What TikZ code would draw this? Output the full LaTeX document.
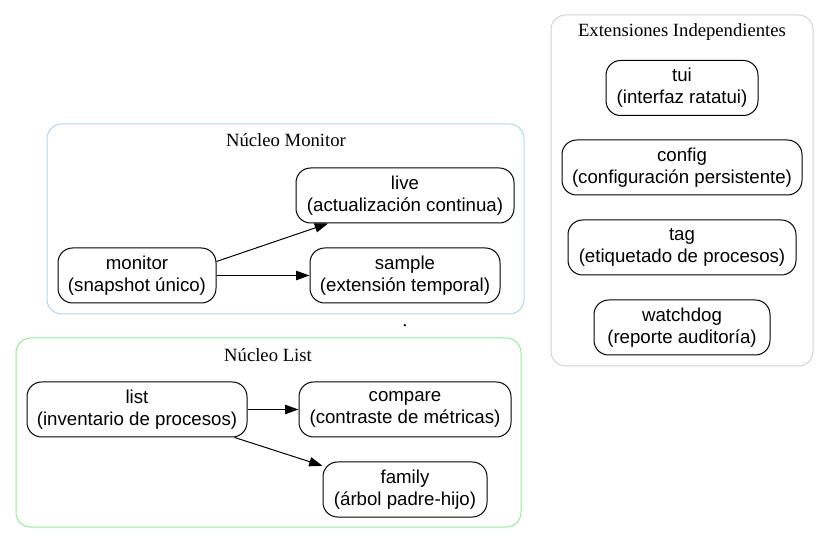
\documentclass[tikz,border=0pt]{standalone}
\usepackage{fontspec}
\setmainfont{Liberation Serif}
\newfontfamily\nodefont{Liberation Sans}
\usetikzlibrary{arrows.meta}
\begin{document}
\begin{tikzpicture}[x=0.75pt,y=-0.75pt,
  proc/.style={draw=black,line width=0.75pt,rounded corners=11pt,minimum height=41.25pt,
    align=center,inner sep=0pt,font=\nodefont\fontsize{14pt}{16.5pt}\selectfont},
  clus/.style={line width=0.75pt,rounded corners=11pt},
  clabel/.style={font=\fontsize{14pt}{16pt}\selectfont,inner sep=0pt},
  edge/.style={line width=0.75pt,-{Triangle[length=10pt,width=7pt]}}]
\useasboundingbox (0,0) rectangle (829,545);
% clusters
\draw[clus,draw={rgb,255:red,173;green,216;blue,230}] (47,124) rectangle (524,314);
\node[clabel] (lmon) at (286,140) {Núcleo Monitor};
\draw[clus,draw={rgb,255:red,144;green,238;blue,144}] (16,338) rectangle (521,527);
\node[clabel] (llist) at (268,355) {Núcleo List};
\draw[clus,draw={rgb,255:red,211;green,211;blue,211}] (551,15) rectangle (813,366);
\node[clabel] (lext) at (682,32) {Extensiones Independientes};
% monitor
\node[proc,minimum width=118.5pt] (monitor) at (137,275.5) {monitor\\(snapshot único)};
\node[proc,minimum width=163.5pt] (live) at (405,195.5) {live\\(actualización continua)};
\node[proc,minimum width=142.5pt] (sample) at (405,275.5) {sample\\(extensión temporal)};
% list
\node[proc,minimum width=165pt] (list) at (137,409.5) {list\\(inventario de procesos)};
\node[proc,minimum width=159pt] (compare) at (405,409.5) {compare\\(contraste de métricas)};
\node[proc,minimum width=123pt] (family) at (405,489.5) {family\\(árbol padre-hijo)};
% extensions
\node[proc,minimum width=114pt] (tui) at (682,88) {tui\\(interfaz ratatui)};
\node[proc,minimum width=180pt] (config) at (682,167.5) {config\\(configuración persistente)};
\node[proc,minimum width=171pt] (tag) at (682,247.5) {tag\\(etiquetado de procesos)};
\node[proc,minimum width=132pt] (watchdog) at (682,327.5) {watchdog\\(reporte auditoría)};
% dot
\node[font=\fontsize{14pt}{16pt}\selectfont,inner sep=0pt] (dot) at (405,326) {.};
% edges
\draw[edge] (monitor.10) -- (live.-160);
\draw[edge] (monitor) -- (sample);
\draw[edge] (list) -- (compare);
\draw[edge] (list.-16) -- (family.164);
\end{tikzpicture}
\end{document}
